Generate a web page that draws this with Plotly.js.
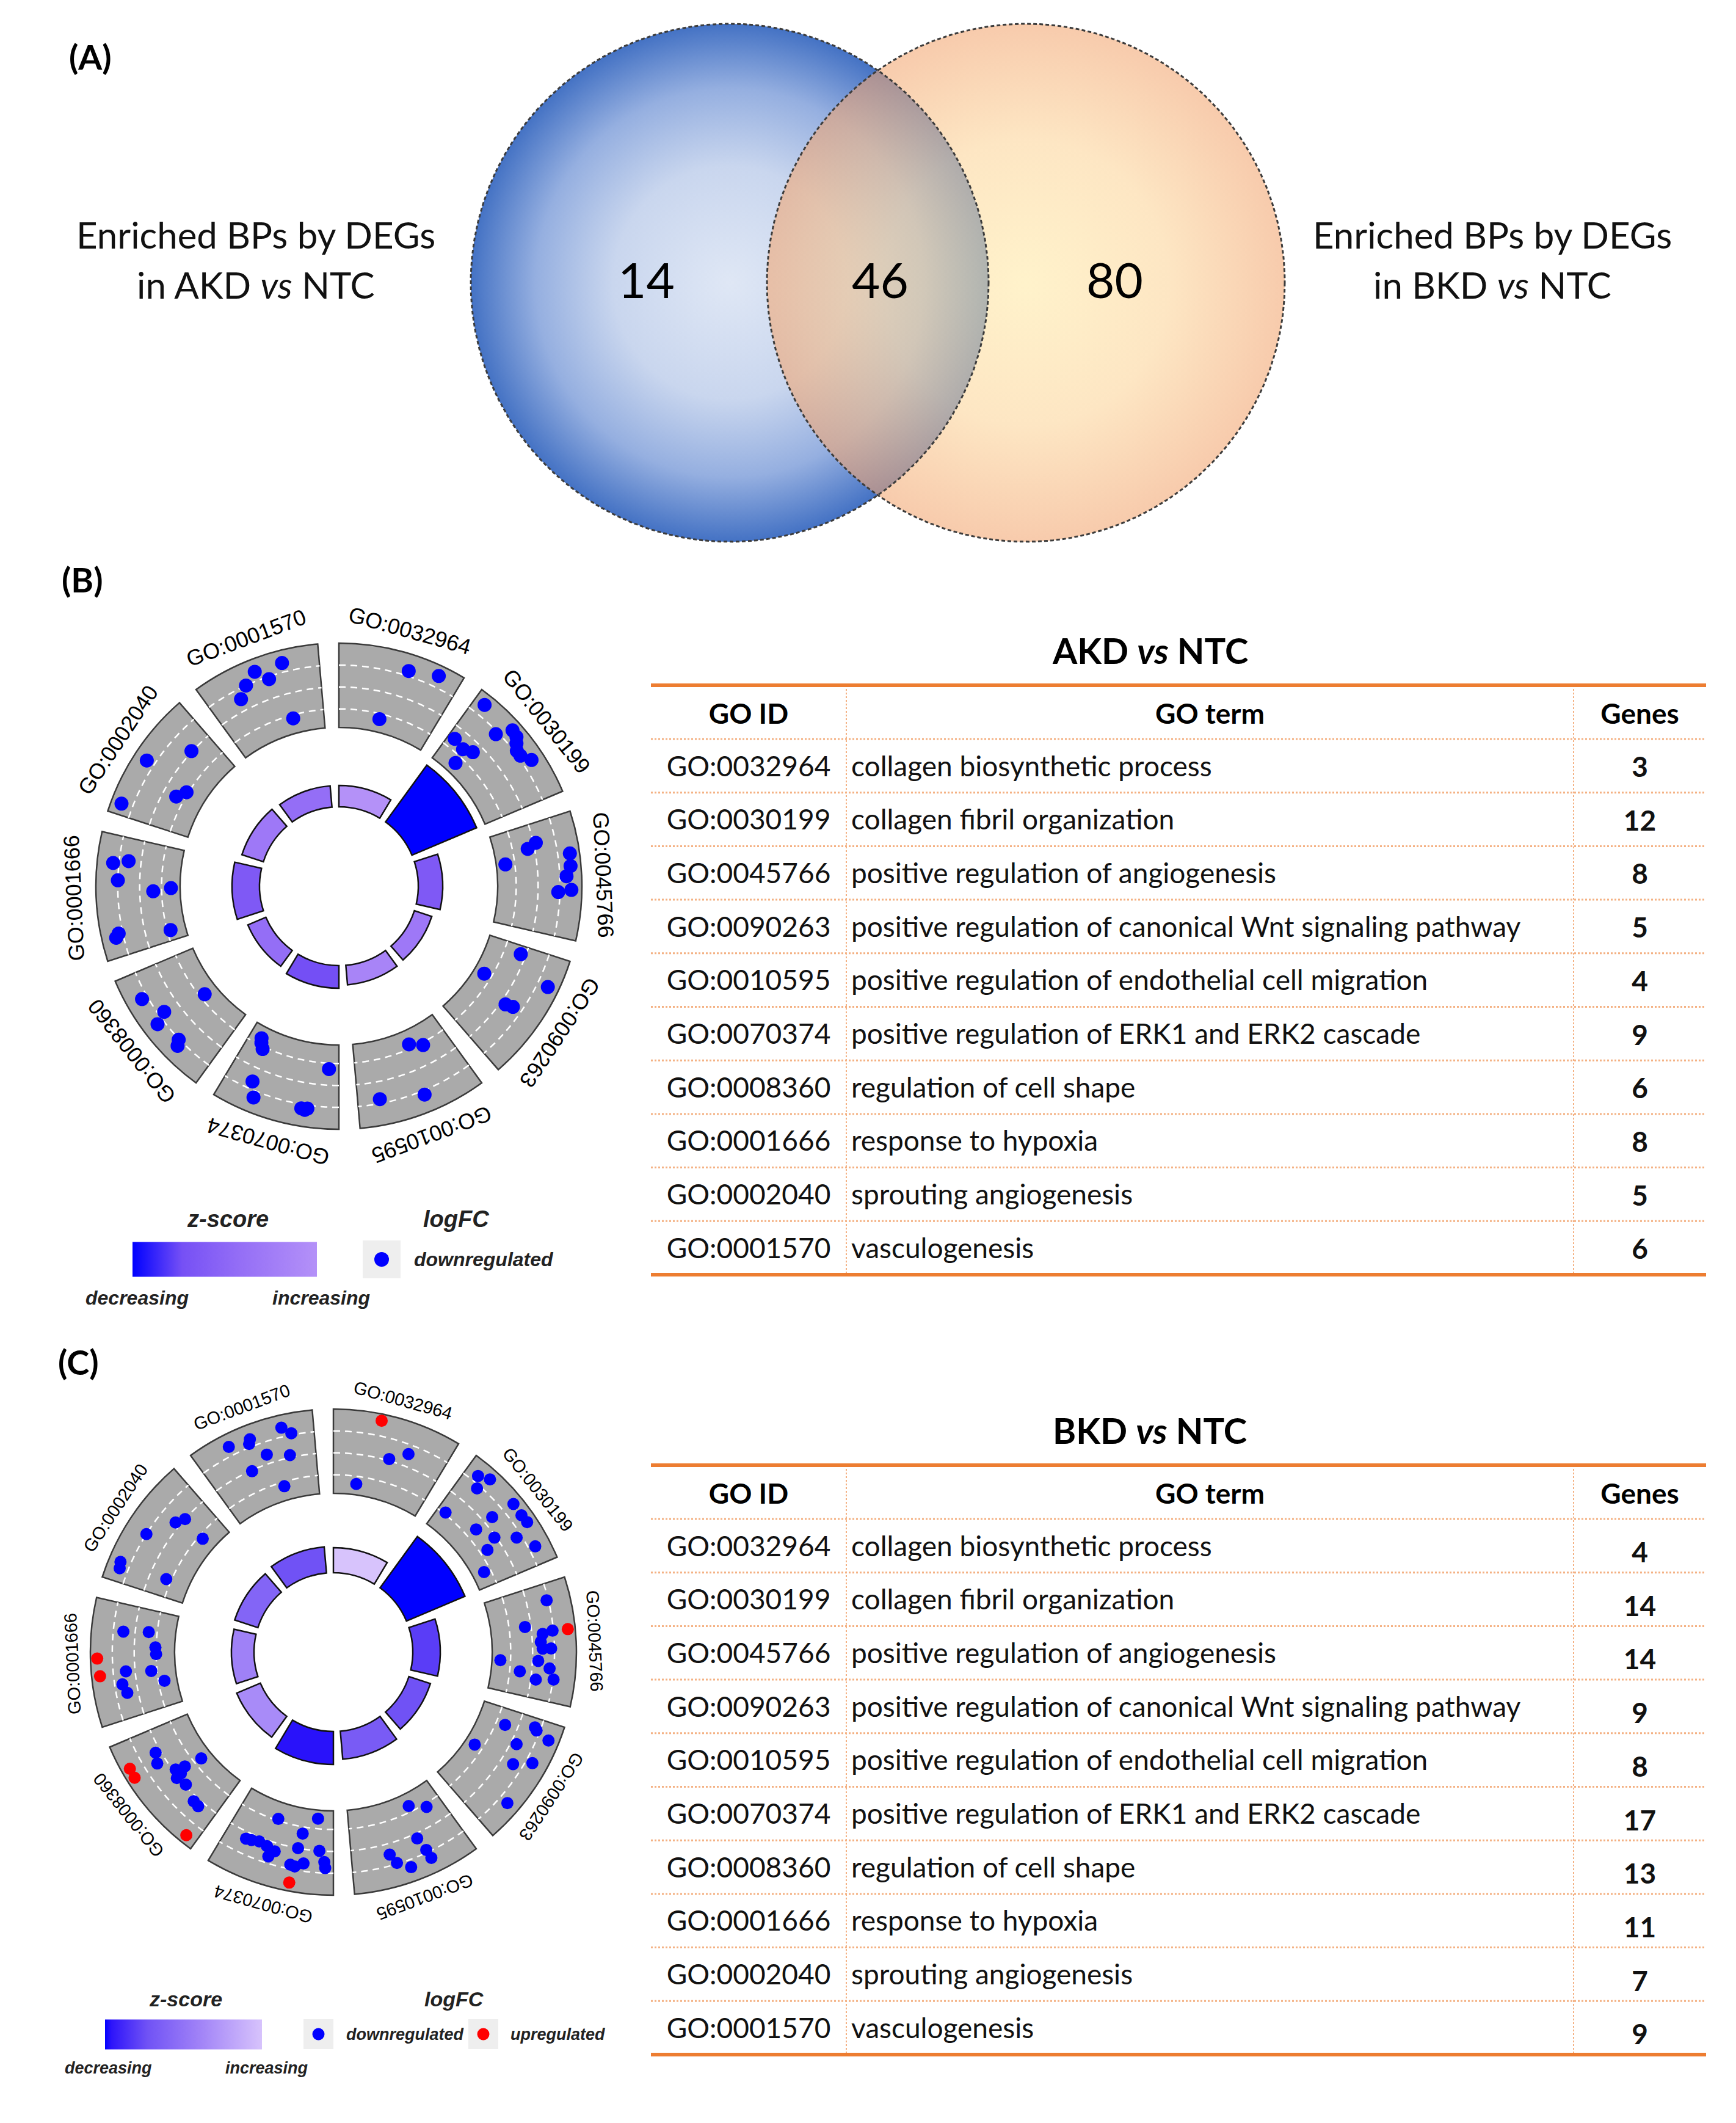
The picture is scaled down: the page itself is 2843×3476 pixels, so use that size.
<!DOCTYPE html>
<html><head><meta charset="utf-8">
<script src="https://cdn.plot.ly/plotly-3.0.1.min.js"></script>
<style>html,body{margin:0;padding:0;background:#fff}</style>
</head><body>
<div id="chart" style="width:2843px;height:3476px"></div>
<script>
// ================= DATA =================
const vennLeftLabel = ['Enriched BPs by DEGs', 'in AKD <i>vs</i> NTC'];
const vennRightLabel = ['Enriched BPs by DEGs', 'in BKD <i>vs</i> NTC'];
const vennCounts = [14, 46, 80]; // AKD only, shared, BKD only

const goIds = ['GO:0032964','GO:0030199','GO:0045766','GO:0090263','GO:0010595',
               'GO:0070374','GO:0008360','GO:0001666','GO:0002040','GO:0001570'];
const goTerms = ['collagen biosynthetic process','collagen fibril organization',
  'positive regulation of angiogenesis','positive regulation of canonical Wnt signaling pathway',
  'positive regulation of endothelial cell migration','positive regulation of ERK1 and ERK2 cascade',
  'regulation of cell shape','response to hypoxia','sprouting angiogenesis','vasculogenesis'];
const tableHeader = ['GO ID', 'GO term', 'Genes'];

const genesAKD = [3, 12, 8, 5, 4, 9, 6, 8, 5, 6];
const genesBKD = [4, 14, 14, 9, 8, 17, 13, 11, 7, 9];

const zscoreAKD = [-1.73, -3.46, -2.83, -2.24, -2.00, -3.00, -2.45, -2.83, -2.24, -2.45];
const zscoreBKD = [-1.00, -3.74, -3.21, -3.00, -2.83, -3.64, -1.94, -2.11, -2.65, -3.00];

const negLogPAKD = [3.5, 11.5, 4.0, 3.0, 3.2, 3.7, 3.2, 4.5, 3.7, 3.5];
const negLogPBKD = [4.1, 10.4, 4.5, 3.7, 4.6, 5.4, 4.2, 3.7, 4.0, 4.3];

// gene points: position inside the term sector (0..1) and logFC
const posAKD = [
 [0.58, 0.82, 0.44],
 [0.09, 0.32, 0.07, 0.20, 0.29, 0.24, 0.39, 0.45, 0.49, 0.54, 0.59, 0.67],
 [0.34, 0.22, 0.18, 0.32, 0.42, 0.50, 0.63, 0.61],
 [0.08, 0.42, 0.25, 0.56, 0.54],
 [0.39, 0.26, 0.81, 0.44],
 [0.87, 0.81, 0.10, 0.77, 0.71, 0.31, 0.26, 0.85, 0.28],
 [0.78, 0.49, 0.59, 0.54, 0.33, 0.30],
 [0.77, 0.80, 0.63, 0.53, 0.56, 0.19, 0.16, 0.11],
 [0.49, 0.79, 0.09, 0.35, 0.44],
 [0.70, 0.47, 0.56, 0.36, 0.27, 0.67]
];
const lfcAKD = [
 [-0.40, -0.05, -3.30],
 [-0.06, -0.81, -2.47, -2.61, -2.36, -3.42, -0.02, -0.09, -0.31, -0.54, -0.54, -0.18],
 [-3.51, -2.20, -1.71, -0.02, -0.06, -0.31, -0.76, -0.06],
 [-2.11, -3.42, -0.09, -1.57, -1.17],
 [-3.24, -2.88, -0.90, -0.45],
 [-3.37, -2.88, -2.70, -1.08, -0.31, -0.45, -0.49, -3.15, -0.40],
 [-0.36, -3.28, -0.99, -0.31, -0.63, -0.36],
 [-0.36, -1.17, -0.67, -2.56, -3.51, -0.45, -0.27, -3.19],
 [-0.22, -1.80, -0.06, -2.56, -2.92],
 [-0.18, -0.18, -0.81, -0.67, -1.21, -3.19]
];
const posBKD = [
 [0.38, 0.67, 0.52, 0.25],
 [0.11, 0.20, 0.17, 0.09, 0.44, 0.47, 0.58, 0.65, 0.43, 0.60, 0.71, 0.85, 0.66, 0.84],
 [0.40, 0.14, 0.34, 0.42, 0.40, 0.49, 0.55, 0.55, 0.67, 0.66, 0.77, 0.72, 0.83, 0.81],
 [0.16, 0.08, 0.14, 0.49, 0.28, 0.45, 0.36, 0.74, 0.10],
 [0.32, 0.16, 0.38, 0.66, 0.62, 0.35, 0.34, 0.52],
 [0.35, 0.59, 0.17, 0.31, 0.81, 0.76, 0.69, 0.61, 0.57, 0.33, 0.13, 0.37, 0.26, 0.08, 0.07, 0.53, 0.33],
 [0.78, 0.70, 0.09, 0.79, 0.70, 0.49, 0.56, 0.53, 0.49, 0.39, 0.23, 0.17, 0.50],
 [0.53, 0.39, 0.76, 0.78, 0.63, 0.56, 0.41, 0.39, 0.27, 0.30, 0.22],
 [0.16, 0.11, 0.46, 0.69, 0.77, 0.74, 0.18],
 [0.74, 0.81, 0.47, 0.45, 0.29, 0.56, 0.76, 0.38, 0.63]
];
const lfcBKD = [
 [0.14, -1.17, -1.75, -3.42],
 [-0.31, -0.03, -0.85, -2.92, -1.35, -0.03, -0.06, -0.02, -2.43, -1.93, -0.94, -0.31, -2.61, -3.37],
 [0.10, -0.76, -2.16, -1.26, -0.72, -1.39, -0.85, -1.30, -3.55, -1.53, -2.47, -0.90, -1.57, -0.63],
 [-2.52, -0.99, -0.06, -3.46, -1.53, -1.17, -0.31, -0.18, -0.85],
 [-3.33, -2.83, -1.57, -1.26, -0.72, -0.81, -0.31, -0.27],
 [0.05, -3.10, -3.55, -2.65, -1.48, -1.53, -1.62, -1.53, -1.03, -1.84, -1.84, -0.90, -1.08, -1.26, -0.94, -1.39, -0.85],
 [0.05, 0.08, 0.06, -1.57, -1.35, -3.42, -1.98, -2.47, -1.75, -1.89, -1.57, -1.53, -2.07],
 [0.14, 0.05, -1.21, -2.56, -2.97, -3.01, -1.35, -2.70, -3.33, -1.08, -1.26],
 [-0.13, -0.22, -0.67, -1.57, -1.84, -3.24, -2.74],
 [-0.18, -0.58, -0.27, -0.49, -0.18, -1.35, -1.71, -1.89, -3.24]
];

// ================= STYLE / GEOMETRY =================
const W = 2843, H = 3476;
const SANS = 'Lato, "Open Sans", sans-serif';
const ARIAL = '"Liberation Sans", Arial, sans-serif';
const ORANGE = '#ed7d31', ORANGE_L = '#f4b183';

const RAD = 410;                 // polar radius in px (1 radial unit = 1 px)
const outerBase = 260, outerTop = 398;
const innerBase = 130, barScale = 10;
const segStep = 36, segSpan = 31;
const lfcMin = -4, lfcMax = 0.5;
const gridFrac = [0.22, 0.48, 0.74];

const traces = [];
const shapes = [];
const annotations = [];

function ann(x, y, text, font, extra) {
  annotations.push(Object.assign({xref:'x', yref:'y', x, y, text, showarrow:false,
    xanchor:'center', yanchor:'middle', font}, extra || {}));
}

// ================= VENN =================
const vennR = 424, vennCy = 463, blueCx = 1195, peachCx = 1680;
function circlePts(cx, cy, r) {
  const xs = [], ys = [];
  for (let a = 0; a <= 360; a += 1) {
    const t = a * Math.PI / 180; xs.push(cx + r * Math.cos(t)); ys.push(cy + r * Math.sin(t));
  }
  return {xs, ys};
}
const cb = circlePts(blueCx, vennCy, vennR), cp = circlePts(peachCx, vennCy, vennR);
traces.push({type:'scatter', x:cb.xs, y:cb.ys, mode:'lines', fill:'toself', line:{width:0},
  fillcolor:'#b4c6e7', hoverinfo:'skip', showlegend:false,
  fillgradient:{type:'radial', colorscale:[[0,'#dfe7f5'],[0.45,'#c9d6ee'],[0.75,'#95afe0'],[1,'#4472c4']]}});
traces.push({type:'scatter', x:cp.xs, y:cp.ys, mode:'lines', fill:'toself', line:{width:0},
  fillcolor:'rgba(247,200,150,0.58)', hoverinfo:'skip', showlegend:false,
  fillgradient:{type:'radial', colorscale:[[0,'rgba(255,233,165,0.58)'],[0.55,'rgba(252,212,152,0.58)'],[1,'rgba(242,165,112,0.58)']]}});
[cb, cp].forEach(c => traces.push({type:'scatter', x:c.xs, y:c.ys, mode:'lines', hoverinfo:'skip',
  showlegend:false, line:{color:'#3c3c3c', width:3, dash:'6px,4px'}}));

ann(148, 92, '<b>(A)</b>', {family:SANS, size:56, color:'#000'});
ann(419, 384, vennLeftLabel[0], {family:SANS, size:60, color:'#111'});
ann(419, 466, vennLeftLabel[1], {family:SANS, size:60, color:'#111'});
ann(2444, 384, vennRightLabel[0], {family:SANS, size:60, color:'#111'});
ann(2444, 466, vennRightLabel[1], {family:SANS, size:60, color:'#111'});
const countX = [1058, 1441, 1825];
vennCounts.forEach((v, i) => ann(countX[i], 457, String(v), {family:SANS, size:80, color:'#000'}));

// ================= GO CIRCLES =================
function lfcToR(v) { return outerBase + (v - lfcMin) / (lfcMax - lfcMin) * (outerTop - outerBase); }

function goCircle(opts) {
  const {polar, cx, cy, pos, lfc, z, nlp, zscale, dotSize, labelSize, labelR, cbar} = opts;
  const centers = goIds.map((_, i) => i * segStep + segSpan / 2);
  // grey sectors
  traces.push({type:'barpolar', subplot:polar, theta:centers, r:goIds.map(() => outerTop - outerBase),
    base:outerBase, width:segSpan, hoverinfo:'skip', showlegend:false,
    marker:{color:'#aaaaaa', line:{color:'#3a3a3a', width:2.5}}});
  // dashed white guide arcs
  gridFrac.forEach(f => {
    const th = [], rr = [];
    const rv = outerBase + f * (outerTop - outerBase);
    goIds.forEach((_, i) => {
      for (let a = 0; a <= segSpan; a += 0.5) { th.push(i * segStep + a); rr.push(rv); }
      th.push(null); rr.push(null);
    });
    traces.push({type:'scatterpolar', subplot:polar, theta:th, r:rr, mode:'lines', hoverinfo:'skip',
      showlegend:false, connectgaps:false, line:{color:'#ffffff', width:2.5, dash:'11px,8px'}});
  });
  // inner z-score bars
  traces.push({type:'barpolar', subplot:polar, theta:centers, r:nlp.map(v => v * barScale),
    base:innerBase, width:segSpan, hoverinfo:'skip', showlegend:false,
    marker:{color:z, colorscale:zscale, cmin:Math.min(...z), cmax:Math.max(...z),
      line:{color:'#111111', width:2.5}, showscale:true,
      colorbar:Object.assign({orientation:'h', xanchor:'center', yanchor:'middle', lenmode:'pixels',
        thicknessmode:'pixels', xpad:0, ypad:0, outlinewidth:0, borderwidth:0,
        showticklabels:false, ticks:''}, cbar)}});
  // gene points
  const th = [], rr = [], col = [];
  pos.forEach((arr, i) => arr.forEach((p, j) => {
    th.push(i * segStep + p * segSpan); rr.push(lfcToR(lfc[i][j]));
    col.push(lfc[i][j] > 0 ? '#ff0000' : '#0000ff');
  }));
  traces.push({type:'scatterpolar', subplot:polar, theta:th, r:rr, mode:'markers', hoverinfo:'skip',
    showlegend:false, marker:{color:col, size:dotSize, line:{width:0}}});
  // term labels
  centers.forEach((t, i) => {
    const rad = t * Math.PI / 180;
    ann(cx + labelR * Math.sin(rad), cy - labelR * Math.cos(rad), goIds[i],
      {family:ARIAL, size:labelSize, color:'#000'}, {textangle: t > 180 ? t - 360 : t});
  });
  return {domain:{x:[(cx - RAD) / W, (cx + RAD) / W], y:[1 - (cy + RAD) / H, 1 - (cy - RAD) / H]},
    bgcolor:'rgba(0,0,0,0)',
    radialaxis:{visible:false, range:[0, RAD]},
    angularaxis:{rotation:90, direction:'clockwise', showline:false, showgrid:false,
      showticklabels:false, ticks:''}};
}

const zScaleAKD = [[0,'#0000ff'],[0.27,'#7650f5'],[0.58,'#946ef6'],[1,'#b491f8']];
const zScaleBKD = [[0,'#0000ff'],[0.04,'#2d14fa'],[0.27,'#7052f5'],[0.6,'#a082f7'],[1,'#d7c3fc']];

const polarB = goCircle({polar:'polar', cx:555, cy:1451, pos:posAKD, lfc:lfcAKD, z:zscoreAKD,
  nlp:negLogPAKD, zscale:zScaleAKD, dotSize:23, labelSize:36, labelR:434,
  cbar:{x:368 / W, y:1 - 2062 / H, len:302, thickness:57}});
const polarC = goCircle({polar:'polar2', cx:546, cy:2705, pos:posBKD, lfc:lfcBKD, z:zscoreBKD,
  nlp:negLogPBKD, zscale:zScaleBKD, dotSize:20, labelSize:29, labelR:428,
  cbar:{x:300 / W, y:1 - 3331 / H, len:257, thickness:49}});

ann(135, 948, '<b>(B)</b>', {family:SANS, size:56, color:'#000'});
ann(128, 2229, '<b>(C)</b>', {family:SANS, size:56, color:'#000'});

// legends of the circles
function legendKey(x0, y0, s, color, r) {
  shapes.push({type:'rect', xref:'x', yref:'y', x0, x1:x0 + s, y0, y1:y0 + s,
    fillcolor:'#eeeeee', line:{width:0}, layer:'above'});
  const cxk = x0 + s / 2, cyk = y0 + s / 2;
  shapes.push({type:'circle', xref:'x', yref:'y', x0:cxk - r, x1:cxk + r, y0:cyk - r, y1:cyk + r,
    fillcolor:color, line:{width:0}, layer:'above'});
}
const legB = {family:ARIAL, size:32, color:'#222'}, legBT = {family:ARIAL, size:38, color:'#222'};
ann(373, 1996, '<b><i>z-score</i></b>', legBT);
ann(747, 1996, '<b><i>logFC</i></b>', legBT);
ann(224, 2125, '<b><i>decreasing</i></b>', legB);
ann(526, 2125, '<b><i>increasing</i></b>', legB);
legendKey(594, 2031, 62, '#0000ff', 12);
ann(676, 2062, '<b><i>downregulated</i></b>', legB, {xanchor:'left'});

const legC = {family:ARIAL, size:27, color:'#222'}, legCT = {family:ARIAL, size:34, color:'#222'};
ann(304, 3273, '<b><i>z-score</i></b>', legCT);
ann(743, 3273, '<b><i>logFC</i></b>', legCT);
ann(177, 3386, '<b><i>decreasing</i></b>', legC);
ann(437, 3386, '<b><i>increasing</i></b>', legC);
legendKey(497, 3306, 49, '#0000ff', 10);
ann(565, 3331, '<b><i>downregulated</i></b>', legC, {xanchor:'left'});
legendKey(767, 3306, 49, '#ff0000', 10);
ann(834, 3331, '<b><i>upregulated</i></b>', legC, {xanchor:'left'});

// ================= TABLES =================
const colEdges = [1066, 1386, 2577, 2794];
const headerH = 88, rowH = 87.7, textShift = 10, cellTextDrop = 8;
const noFill = {color:'rgba(0,0,0,0)'}, noLine = {width:0, color:'rgba(0,0,0,0)'};
function goTable(top, title, genes, genesLift) {
  ann(1883, top - 58, title, {family:SANS, size:58, color:'#000'});
  const dom = {x:[colEdges[0] / W, colEdges[3] / W], y:[1 - (top + textShift + 1020) / H, 1 - (top + textShift) / H]};
  const font = {family:SANS, size:46, color:'#111'};
  // GO ID + GO term columns (and the Genes header)
  traces.push({type:'table', domain:dom,
    columnwidth:[colEdges[1] - colEdges[0], colEdges[2] - colEdges[1], colEdges[3] - colEdges[2]],
    header:{values:tableHeader.map(h => '<b>' + h + '</b>'), align:['center','center','center'],
      height:headerH + cellTextDrop, fill:noFill, line:noLine, font:Object.assign({}, font, {color:'#000'})},
    cells:{values:[goIds, goTerms, genes.map(() => '')], align:['center','left','center'],
      height:rowH, fill:noFill, line:noLine, font}});
  // Genes column values
  traces.push({type:'table',
    domain:{x:[colEdges[2] / W, colEdges[3] / W], y:dom.y},
    columnwidth:[colEdges[3] - colEdges[2]],
    header:{values:[''], height:headerH + cellTextDrop - genesLift, fill:noFill, line:noLine, font},
    cells:{values:[genes.map(g => '<b>' + g + '</b>')], align:['center'],
      height:rowH, fill:noFill, line:noLine, font}});
  const bottom = top + headerH + goIds.length * rowH;
  for (let i = 0; i < goIds.length; i++) {
    const y = top + headerH + i * rowH;
    shapes.push({type:'line', xref:'x', yref:'y', x0:colEdges[0], x1:colEdges[3], y0:y, y1:y,
      line:{color:ORANGE_L, width:3, dash:'dot'}, layer:'above'});
  }
  [colEdges[1], colEdges[2]].forEach(x => shapes.push({type:'line', xref:'x', yref:'y', x0:x, x1:x,
    y0:top, y1:bottom, line:{color:ORANGE_L, width:2, dash:'dot'}, layer:'above'}));
  [top, bottom].forEach(y => shapes.push({type:'line', xref:'x', yref:'y', x0:colEdges[0], x1:colEdges[3],
    y0:y, y1:y, line:{color:ORANGE, width:6}, layer:'above'}));
}
goTable(1122, '<b>AKD <i>vs</i> NTC</b>', genesAKD, 9);
goTable(2399, '<b>BKD <i>vs</i> NTC</b>', genesBKD, 0);

// ================= LAYOUT =================
const layout = {
  width:W, height:H, margin:{l:0, r:0, t:0, b:0}, autosize:false,
  paper_bgcolor:'#ffffff', plot_bgcolor:'rgba(0,0,0,0)', showlegend:false,
  xaxis:{domain:[0, 1], range:[0, W], visible:false, fixedrange:true},
  yaxis:{domain:[0, 1], range:[H, 0], visible:false, fixedrange:true},
  polar:polarB, polar2:polarC,
  shapes, annotations
};
Plotly.newPlot('chart', traces, layout, {staticPlot:true, displayModeBar:false});
</script>
</body></html>
